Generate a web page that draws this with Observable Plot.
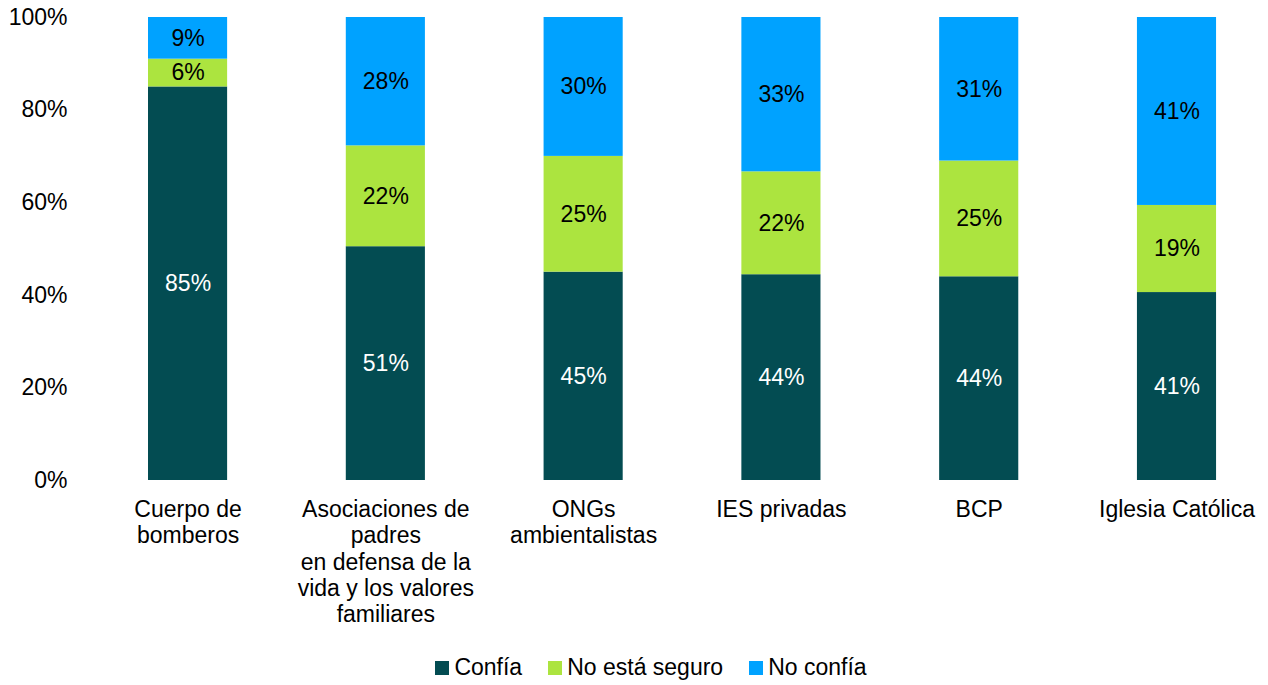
<!DOCTYPE html>
<html>
<head>
<meta charset="utf-8">
<script src="https://cdn.jsdelivr.net/npm/d3@7"></script>
<script src="https://cdn.jsdelivr.net/npm/@observablehq/plot@0.6"></script>
<style>
  html, body { margin: 0; padding: 0; background: #fff; }
  body { width: 1268px; font-family: Arial, "Liberation Sans", sans-serif; }
  #legend { display: flex; justify-content: center; align-items: center; height: 35px;
    font-size: 23px; color: #000; margin-left: 34px; }
  .item { display: flex; align-items: center; margin: 0 13px; }
  .sw { width: 14px; height: 14px; margin-right: 5px; }
</style>
</head>
<body>
<div id="chart"></div>
<div id="legend"></div>
<script>
const categories = ["Cuerpo de bomberos", "Asociaciones de padres en defensa de la vida y los valores familiares", "ONGs ambientalistas", "IES privadas", "BCP", "Iglesia Católica"];
const tickLabels = ["Cuerpo de\nbomberos", "Asociaciones de\npadres\nen defensa de la\nvida y los valores\nfamiliares", "ONGs\nambientalistas", "IES privadas", "BCP", "Iglesia Católica"];
const series = ["Confía", "No está seguro", "No confía"];
const colors = ["#034C52", "#ACE43F", "#00A2FF"];
const confia = [85, 51, 45, 44, 44, 41];
const noSeguro = [6, 22, 25, 22, 25, 19];
const noConfia = [9, 28, 30, 33, 31, 41];
const yTicks = [0, 0.2, 0.4, 0.6, 0.8, 1];

const valuesBySeries = [confia, noSeguro, noConfia];
const data = [];
series.forEach((s, si) => categories.forEach((c, ci) => data.push({cat: c, series: s, value: valuesBySeries[si][ci]})));
const labelOf = Object.fromEntries(categories.map((c, i) => [c, tickLabels[i]]));

const stackOpts = {x: "cat", y: "value", z: "series", order: series, offset: "normalize"};

const chart = Plot.plot({
  width: 1268,
  height: 650,
  marginTop: 17,
  marginBottom: 170,
  marginLeft: 88,
  marginRight: 0,
  style: {fontFamily: 'Arial, "Liberation Sans", sans-serif', fontSize: "23px", color: "#000"},
  x: {domain: categories, paddingInner: 0.6, paddingOuter: 0.283, align: 0.536, round: false, label: null},
  y: {domain: [0, 1], label: null},
  color: {domain: series, range: colors},
  marks: [
    Plot.barY(data, Plot.stackY({...stackOpts, fill: "series"})),
    Plot.text(data, Plot.stackY({...stackOpts, text: d => d.value + "%",
      fill: d => d.series === "Confía" ? "#fff" : "#000", fontSize: 23})),
    Plot.axisY({ticks: yTicks, tickFormat: d => Math.round(d * 100) + "%", tickSize: 0, tickPadding: 21, fontSize: 23, label: null}),
    Plot.axisX({tickSize: 0, tickPadding: 18, fontSize: 23, lineHeight: 1.14, tickFormat: d => labelOf[d], label: null})
  ]
});
document.getElementById("chart").appendChild(chart);

const legend = document.getElementById("legend");
series.forEach((s, i) => {
  const it = document.createElement("div");
  it.className = "item";
  it.innerHTML = `<span class="sw" style="background:${colors[i]}"></span><span>${s}</span>`;
  legend.appendChild(it);
});
</script>
</body>
</html>
